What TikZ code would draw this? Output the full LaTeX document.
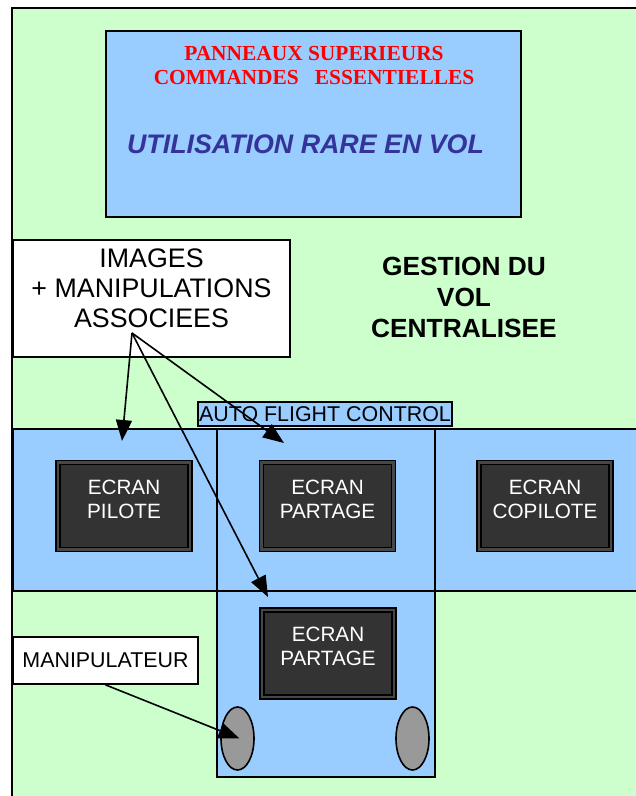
\documentclass[tikz,border=0pt]{standalone}
\usepackage{fontspec}
\setmainfont{Liberation Sans}
\newfontfamily\serifgras{Liberation Serif}
\usetikzlibrary{positioning, arrows.meta, shapes.geometric}

\definecolor{fondvert}{HTML}{CCFFCC}
\definecolor{bleuclair}{HTML}{99CCFF}
\definecolor{bleutexte}{HTML}{333399}
\definecolor{ecrangris}{HTML}{333333}
\definecolor{manchegris}{HTML}{999999}

\begin{document}
\begin{tikzpicture}[x=1pt, y=-1pt,
    panneau/.style={draw, line width=1.7pt, fill=bleuclair, inner sep=0pt},
    boite/.style={draw, line width=1.7pt, fill=white, inner sep=0pt, align=center},
    ecran/.style={draw=black, line width=1.5pt, double=black!72, double distance=2.6pt,
      fill=ecrangris, text=white, align=center, minimum width=132pt, minimum height=87pt,
      font=\fontsize{20.7}{24}\selectfont, text depth=14pt},
    manche/.style={ellipse, draw, line width=1.6pt, fill=manchegris, inner sep=0pt,
      minimum width=33pt, minimum height=63pt},
    fleche/.style={line width=1.6pt, -{Triangle[length=21pt, width=16pt]}}
  ]

    \useasboundingbox (0,0) rectangle (636,796);
    \fill[white] (0,0) rectangle (636,796);

    % Background of the cockpit
    \fill[fondvert] (12,8) rectangle (636,796);
    \draw[line width=2pt] (12,796) -- (12,8) -- (636,8);

    % Overhead panel
    \node[panneau, minimum width=415pt, minimum height=186pt] (superieur) at (313.5,124) {};
    \node[text=red, align=center, font=\serifgras\bfseries\fontsize{21.4}{24}\selectfont]
      (commandes) at (314,66) {PANNEAUX SUPERIEURS\\COMMANDES~~~ESSENTIELLES};
    \node[text=bleutexte, font=\bfseries\itshape\fontsize{26.8}{30}\selectfont]
      (rare) at (305.5,144) {UTILISATION RARE EN VOL};

    \node[font=\bfseries\fontsize{26.3}{31}\selectfont, align=center]
      (gestion) at (464,297) {GESTION DU\\VOL\\CENTRALISEE};

    % Label boxes
    \node[boite, minimum width=277pt, minimum height=117pt, text depth=21pt,
      font=\fontsize{26.8}{30}\selectfont] (images) at (151.5,298.5)
      {IMAGES\\+ MANIPULATIONS\\ASSOCIEES};
    \node[boite, minimum width=185pt, minimum height=47pt,
      font=\fontsize{21.4}{24}\selectfont] (manipulateur) at (105.5,660.5) {MANIPULATEUR};

    % Main instrument panel
    \node[panneau, anchor=north west, minimum width=204pt, minimum height=162pt]
      (gauche) at (12,428) {};
    \node[panneau, anchor=north west, minimum width=218pt, minimum height=162pt]
      (centre) at (216,428) {};
    \node[panneau, anchor=north west, minimum width=215pt, minimum height=162pt]
      (droite) at (434,428) {};
    \node[panneau, anchor=north west, minimum width=218pt, minimum height=186pt]
      (pupitre) at (216,590) {};
    \node[panneau, line width=1.4pt, minimum width=254pt, minimum height=24pt,
      font=\fontsize{21.4}{24}\selectfont] (afc) at (325,414) {AUTO FLIGHT CONTROL};

    % Screens
    \node[ecran] (pilote) at (124,506) {ECRAN\\PILOTE};
    \node[ecran] (partage) at (327.5,506) {ECRAN\\PARTAGE};
    \node[ecran] (copilote) at (545,506) {ECRAN\\COPILOTE};
    \node[ecran] (partagebas) at (328,653.5) {ECRAN\\PARTAGE};

    % Side sticks
    \node[manche] (mancheG) at (237.5,738.5) {};
    \node[manche] (mancheD) at (412.5,738.5) {};

    % Arrows
    \coordinate (depart) at (132,333);
    \coordinate (versPilote) at (122,441);
    \coordinate (versPartage) at (284,443);
    \coordinate (versPupitre) at (268,597);
    \draw[fleche] (depart) -- (versPilote);
    \draw[fleche] (depart) -- (versPartage);
    \draw[fleche] (depart) -- (versPupitre);
    \draw[fleche] (manipulateur.south) -- ([xshift=2pt]mancheG.center);

\end{tikzpicture}
\end{document}
